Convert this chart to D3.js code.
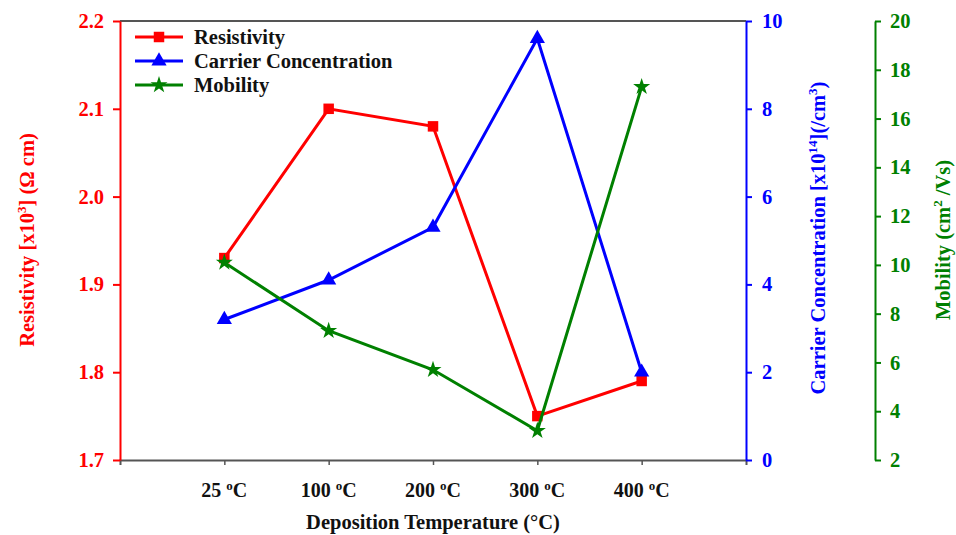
<!DOCTYPE html>
<html><head><meta charset="utf-8">
<script src="https://cdn.jsdelivr.net/npm/d3@7"></script>
<style>body{margin:0;background:#fff}text{font-family:"Liberation Serif","Times New Roman",serif;font-weight:bold}</style>
</head><body><svg id="c" width="956" height="535"></svg>
<script>
const categories = ["25", "100", "200", "300", "400"];
const resistivity = [1.93, 2.10, 2.08, 1.75, 1.79];
const carrier = [3.2, 4.1, 5.3, 9.6, 2.0];
const mobility = [10.1, 7.3, 5.7, 3.2, 17.3];
const resTicks = [1.7, 1.8, 1.9, 2.0, 2.1, 2.2];
const carTicks = [0, 2, 4, 6, 8, 10];
const mobTicks = [2, 4, 6, 8, 10, 12, 14, 16, 18, 20];

const RED = "#ff0000", BLUE = "#0000ff", GREEN = "#008000";
const svg = d3.select("#c");
const L = 120, R = 746, T = 21, B = 460, G = 875;

const x = d3.scaleLinear().domain([0, categories.length + 1]).range([L, R]);
const yR = d3.scaleLinear().domain([1.7, 2.2]).range([B, T]);
const yC = d3.scaleLinear().domain([0, 10]).range([B, T]);
const yM = d3.scaleLinear().domain([2, 20]).range([B, T]);

svg.append("line").attr("x1", L).attr("x2", R).attr("y1", T).attr("y2", T).attr("stroke", "#555").attr("stroke-width", 2);
const xa = svg.append("g").attr("transform", `translate(0,${B})`)
  .call(d3.axisBottom(x).tickValues(categories.map((c, i) => i + 1)).tickSize(5).tickFormat(""));
xa.select(".domain").attr("stroke", "#555").attr("stroke-width", 2);
xa.selectAll(".tick line").attr("stroke", "#555").attr("stroke-width", 1.5);
categories.forEach((c, i) => {
  const t = svg.append("text").attr("x", x(i + 1)).attr("y", 497).attr("text-anchor", "middle")
    .attr("font-size", 20).attr("fill", "#111");
  t.append("tspan").text(c + " ");
  t.append("tspan").text("o").attr("font-size", 13).attr("dy", -7);
  t.append("tspan").text("C").attr("dy", 7);
});
svg.append("text").attr("x", (L + R) / 2).attr("y", 529).attr("text-anchor", "middle")
  .attr("font-size", 20.5).attr("fill", "#111").text("Deposition Temperature (°C)");

function styleAxis(g, col) {
  g.select(".domain").attr("stroke", col).attr("stroke-width", 2);
  g.selectAll(".tick line").attr("stroke", col).attr("stroke-width", 2);
  g.selectAll(".tick text").attr("fill", col).attr("font-size", 20.5)
    .attr("font-family", '"Liberation Serif",serif').attr("font-weight", "bold");
}
const ga = svg.append("g").attr("transform", `translate(${L},0)`)
  .call(d3.axisLeft(yR).tickValues(resTicks).tickSize(7).tickPadding(9).tickSizeOuter(0).tickFormat(d3.format(".1f")));
styleAxis(ga, RED);
const gb = svg.append("g").attr("transform", `translate(${R},0)`)
  .call(d3.axisRight(yC).tickValues(carTicks).tickSize(6).tickPadding(10).tickSizeOuter(0));
styleAxis(gb, BLUE);
const gc = svg.append("g").attr("transform", `translate(${G},0)`)
  .call(d3.axisRight(yM).tickValues(mobTicks).tickSize(6).tickPadding(9).tickSizeOuter(0));
styleAxis(gc, GREEN);

function rotLabel(cx, cy, col, parts) {
  const t = svg.append("text").attr("transform", `translate(${cx},${cy}) rotate(-90)`)
    .attr("text-anchor", "middle").attr("font-size", 20.5).attr("fill", col);
  parts.forEach(p => {
    const s = t.append("tspan").text(p[0]);
    if (p[1] === "sup") s.attr("font-size", 13).attr("dy", -8);
    if (p[1] === "down") s.attr("dy", 8);
  });
}
rotLabel(34, 240, RED, [["Resistivity [x10"], ["3", "sup"], ["] (Ω cm)", "down"]]);
rotLabel(825, 238, BLUE, [["Carrier Concentration [x10"], ["14", "sup"], ["](/cm", "down"], ["3", "sup"], [")", "down"]]);
rotLabel(950, 240, GREEN, [["Mobility (cm"], ["2", "sup"], [" /Vs)", "down"]]);

const sq = d3.symbol().type(d3.symbolSquare).size(110);
const tri = d3.symbol().type(d3.symbolTriangle).size(100);
const star = d3.symbol().type(d3.symbolStar).size(90);

function series(vals, y, col, sym) {
  const line = d3.line().x((d, i) => x(i + 1)).y(d => y(d));
  svg.append("path").datum(vals).attr("d", line).attr("fill", "none").attr("stroke", col).attr("stroke-width", 3);
  svg.selectAll(null).data(vals).enter().append("path")
    .attr("transform", (d, i) => `translate(${x(i + 1)},${y(d)})`).attr("d", sym).attr("fill", col);
}
series(resistivity, yR, RED, sq);
series(carrier, yC, BLUE, tri);
series(mobility, yM, GREEN, star);

const legend = [["Resistivity", RED, sq], ["Carrier Concentration", BLUE, tri], ["Mobility", GREEN, star]];
legend.forEach((l, i) => {
  const yy = 37 + i * 24;
  svg.append("line").attr("x1", 135).attr("x2", 183).attr("y1", yy).attr("y2", yy).attr("stroke", l[1]).attr("stroke-width", 3);
  svg.append("path").attr("transform", `translate(159,${yy})`).attr("d", l[2]).attr("fill", l[1]);
  svg.append("text").attr("x", 194).attr("y", yy + 7).attr("font-size", 20.5).attr("fill", "#111").text(l[0]);
});
</script></body></html>
